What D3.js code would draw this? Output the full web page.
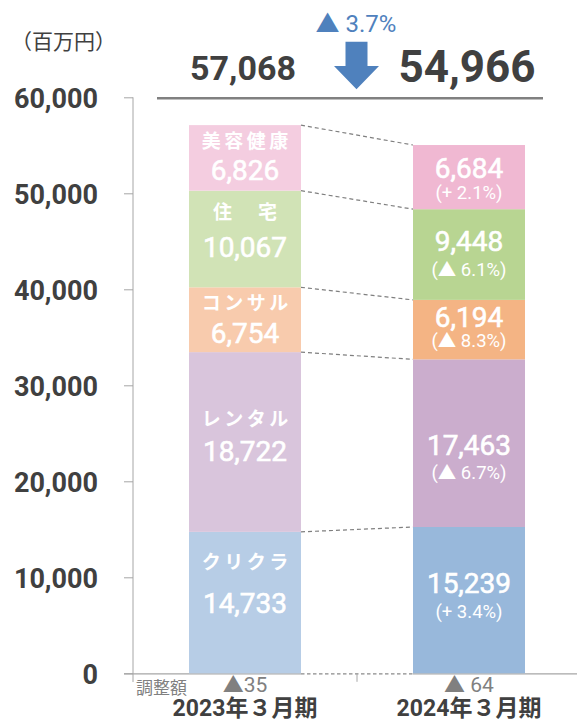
<!DOCTYPE html>
<html><head><meta charset="utf-8">
<script src="https://cdn.jsdelivr.net/npm/d3@7"></script>
<style>
html,body{margin:0;padding:0;background:#fff;}
svg{display:block;font-family:Roboto,"Noto Sans CJK JP",sans-serif;}
</style></head>
<body><svg id="c" width="577" height="721"></svg>
<script>
// ---- data ----
const periods = ["2023年３月期", "2024年３月期"];
const segments = ["クリクラ", "レンタル", "コンサル", "住　宅", "美容健康"];
const values2023 = [14733, 18722, 6754, 10067, 6826];
const values2024 = [15239, 17463, 6194, 9448, 6684];
const changes2024 = ["+ 3.4%", "▲ 6.7%", "▲ 8.3%", "▲ 6.1%", "+ 2.1%"];
const totals = ["57,068", "54,966"];
const adjustments = ["▲35", "▲ 64"];
const adjustLabel = "調整額";
const totalChange = "▲ 3.7%";
const unitLabel = "（百万円）";
const yTicks = [0, 10000, 20000, 30000, 40000, 50000, 60000];

// ---- layout / style ----
const colors2023 = ["#b7cde6", "#d9c5dc", "#f8cbad", "#d1e3b6", "#f4cde0"];
const colors2024 = ["#98b8db", "#cbadcd", "#f4b484", "#b8d592", "#f0b8d2"];
// offsets relative to segment centre: [name centre, number baseline]
const leftDy = [[-40, 10], [-23, 19], [-17, 23], [-27, 18], [-17, 22]];
// [number baseline, pct baseline]
const rightDy = [[-7, 18], [12, 36], [-3, 17.5], [-4, 21.5], [1, 22]];

const svg = d3.select("#c");
const y = d3.scaleLinear().domain([0, 60000]).range([673.3, 97.3]);
const x = d3.scaleBand().domain(periods).range([133, 581]).paddingInner(0.5).paddingOuter(0.25);
const bw = x.bandwidth();

const stackData = periods.map((p, pi) => {
  const o = {period: p};
  segments.forEach((s, i) => o[s] = (pi === 0 ? values2023 : values2024)[i]);
  return o;
});
const series = d3.stack().keys(segments)(stackData);

// y axis
const yAxis = d3.axisLeft(y).tickValues(yTicks).tickSize(9).tickFormat(d3.format(","));
const ya = svg.append("g").attr("transform", "translate(133,0)").call(yAxis);
ya.select(".domain").attr("stroke", "#a6a6a6").attr("d", "M0," + y(60000) + "V682");
ya.selectAll(".tick line").attr("stroke", "#a6a6a6");
ya.selectAll(".tick text").attr("x", -35).attr("dy", "0.36em")
  .attr("fill", "#404040").style("font-size", "27px").style("font-weight", "bold")
  .style("font-family", "Roboto, sans-serif");

// baseline (x axis)
const by = y(0) + 0.5;
const xa = svg.append("g");
xa.append("line").attr("x1", 124).attr("x2", x(periods[0]) + bw).attr("y1", by).attr("y2", by)
  .attr("stroke", "#a6a6a6").attr("stroke-width", 1.2);
xa.append("line").attr("x1", x(periods[1])).attr("x2", 577).attr("y1", by).attr("y2", by)
  .attr("stroke", "#a6a6a6").attr("stroke-width", 1.2);
xa.append("line").attr("x1", x(periods[0]) + bw).attr("x2", x(periods[1])).attr("y1", by).attr("y2", by)
  .attr("stroke", "#8a8a8a").attr("stroke-width", 1.2).attr("stroke-dasharray", "3.5,2.5");
const midX = x(periods[0]) + bw + (x.step() - bw) / 2;
xa.append("line").attr("x1", midX).attr("x2", midX)
  .attr("y1", by).attr("y2", by + 8).attr("stroke", "#a6a6a6");

// bars
const gBars = svg.append("g");
series.forEach((s, i) => {
  s.forEach((d, pi) => {
    gBars.append("rect")
      .attr("x", x(periods[pi])).attr("width", bw)
      .attr("y", y(d[1])).attr("height", y(d[0]) - y(d[1]))
      .attr("fill", (pi === 0 ? colors2023 : colors2024)[i]);
  });
});

// connectors
series.forEach((s, i) => {
  svg.append("line")
    .attr("x1", x(periods[0]) + bw).attr("y1", y(s[0][1]))
    .attr("x2", x(periods[1])).attr("y2", y(s[1][1]))
    .attr("stroke", "#7f7f7f").attr("stroke-width", 1.2).attr("stroke-dasharray", "4,3");
});

// labels in bars
const fmt = d3.format(",");
const cx0 = x(periods[0]) + bw / 2, cx1 = x(periods[1]) + bw / 2;
function num(t) {
  return t.attr("text-anchor", "middle").attr("fill", "#fff")
    .attr("stroke", "#fff").attr("stroke-width", 0.6)
    .style("font-size", "28px");
}
series.forEach((s, i) => {
  const c0 = (y(s[0][0]) + y(s[0][1])) / 2;
  svg.append("text").attr("x", cx0 + 1.75).attr("y", c0 + leftDy[i][0]).attr("dy", "0.36em")
    .attr("text-anchor", "middle").attr("fill", "#fff")
    .style("font-size", "19px").style("font-weight", "bold").style("letter-spacing", "3.5px")
    .style("font-family", "'Noto Sans CJK JP', sans-serif")
    .text(segments[i]);
  num(svg.append("text").attr("x", cx0).attr("y", c0 + leftDy[i][1]))
    .text(fmt(values2023[i]));
  const c1 = (y(s[1][0]) + y(s[1][1])) / 2;
  num(svg.append("text").attr("x", cx1).attr("y", c1 + rightDy[i][0]))
    .text(fmt(values2024[i]));
  svg.append("text").attr("x", cx1).attr("y", c1 + rightDy[i][1])
    .attr("text-anchor", "middle").attr("fill", "#fff")
    .style("font-size", "18.5px")
    .text("(" + changes2024[i] + ")");
});

// adjustments & categories
svg.append("text").attr("x", 136).attr("y", 694).attr("fill", "#808080")
  .style("font-size", "17px").style("font-family", "'Noto Sans CJK JP', sans-serif").text(adjustLabel);
periods.forEach((p, pi) => {
  const cx = x(p) + bw / 2;
  svg.append("text").attr("x", cx).attr("y", 692).attr("text-anchor", "middle")
    .attr("fill", "#808080").style("font-size", "21px").text(adjustments[pi]);
  svg.append("text").attr("x", cx).attr("y", 716).attr("text-anchor", "middle")
    .attr("fill", "#404040").style("font-size", "23px").style("font-weight", "bold").text(p);
});

// header
svg.append("text").attr("x", 11).attr("y", 49).attr("fill", "#404040")
  .style("font-size", "21px").style("font-family", "'Noto Sans CJK JP', sans-serif").text(unitLabel);
svg.append("line").attr("x1", 157).attr("x2", 543).attr("y1", 98.3).attr("y2", 98.3)
  .attr("stroke", "#808080").attr("stroke-width", 2.5);
svg.append("text").attr("x", 243).attr("y", 80).attr("text-anchor", "middle").attr("fill", "#404040")
  .style("font-size", "34px").style("font-weight", "bold").text(totals[0]);
svg.append("text").attr("x", 467).attr("y", 82).attr("text-anchor", "middle").attr("fill", "#404040")
  .style("font-size", "44px").style("font-weight", "bold").text(totals[1]);
svg.append("text").attr("x", 356).attr("y", 32).attr("text-anchor", "middle").attr("fill", "#4f81bd")
  .style("font-size", "24px").text(totalChange);
// down arrow
const ax = 356.5;
svg.append("path").attr("fill", "#4f81bd")
  .attr("d", `M${ax-11},41.7 H${ax+11} V66 H${ax+22.5} L${ax},89.3 L${ax-22.5},66 H${ax-11} Z`);
</script></body></html>
